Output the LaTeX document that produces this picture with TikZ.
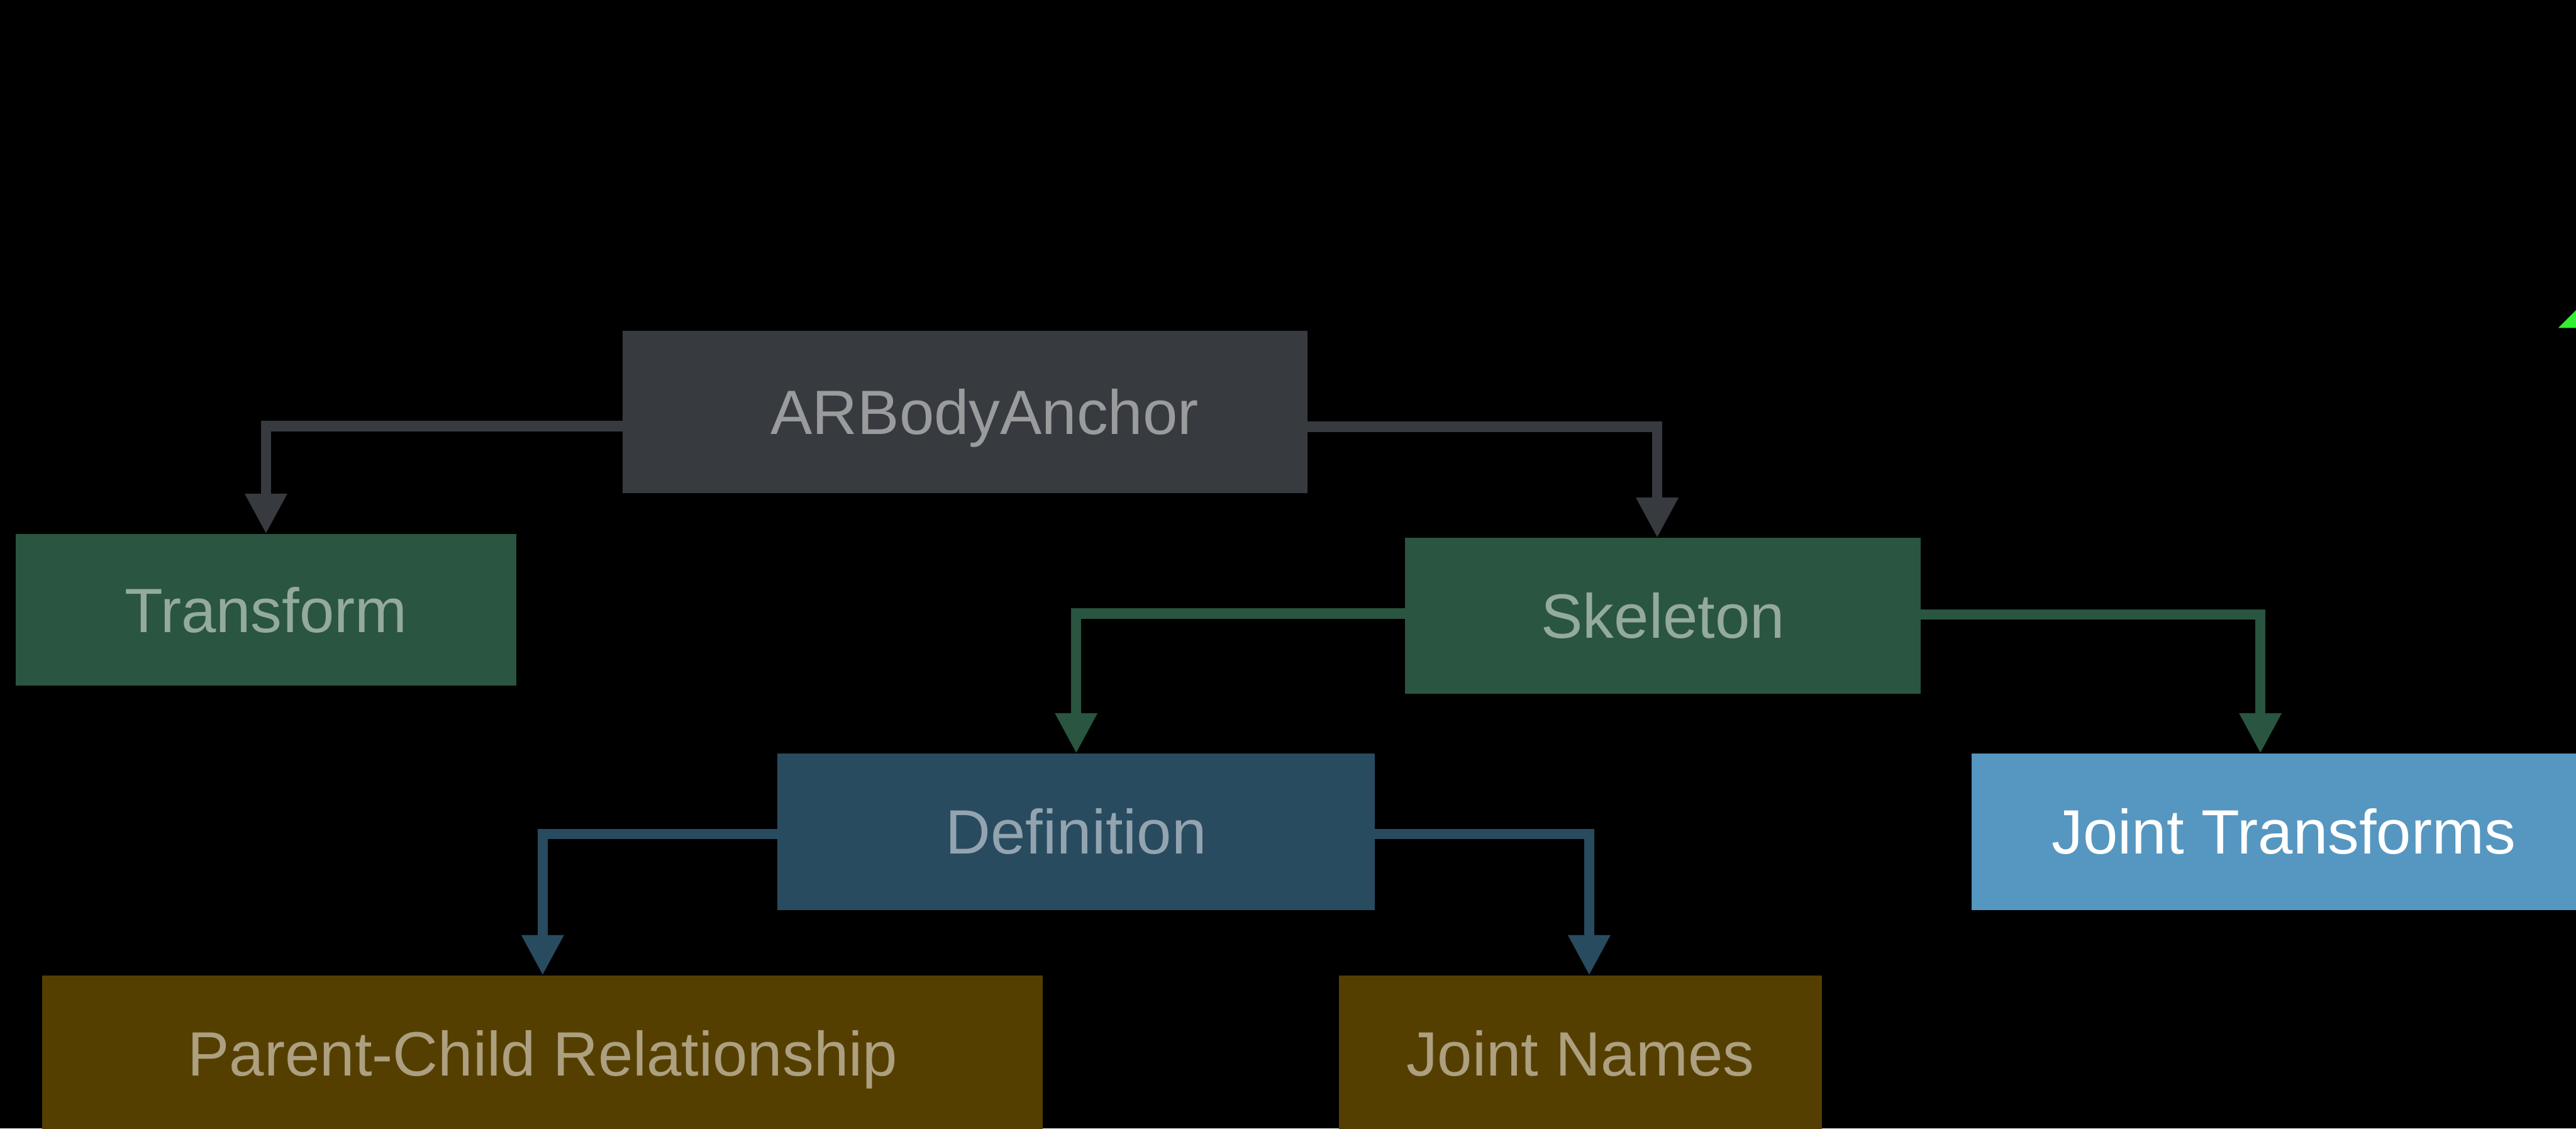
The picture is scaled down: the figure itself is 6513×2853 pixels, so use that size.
\documentclass[tikz,border=0pt]{standalone}
\usepackage{fontspec}
\setmainfont{Liberation Sans}
\usetikzlibrary{arrows.meta}

\definecolor{anchorfill}{HTML}{373B40}
\definecolor{anchortext}{HTML}{999B9D}
\definecolor{greenfill}{HTML}{2A5540}
\definecolor{greentext}{HTML}{93AA9C}
\definecolor{bluefill}{HTML}{284B5F}
\definecolor{bluetext}{HTML}{93A4B0}
\definecolor{skyfill}{HTML}{5597C1}
\definecolor{brownfill}{HTML}{553F00}
\definecolor{browntext}{HTML}{ADA080}
\definecolor{marker}{HTML}{33EE33}

\tikzset{
  box/.style={rectangle, inner sep=0pt, outer sep=0pt,
    font=\fontsize{45}{54}\selectfont, text height=32.2pt, text depth=0pt},
  anchorbox/.style={box, fill=anchorfill, text=anchortext},
  greenbox/.style={box, fill=greenfill, text=greentext},
  bluebox/.style={box, fill=bluefill, text=bluetext},
  skybox/.style={box, fill=skyfill, text=white},
  brownbox/.style={box, fill=brownfill, text=browntext},
  conn/.style={line width=0.26cm, line join=miter, draw=#1,
    -{Triangle[length=1.02cm, width=1.0cm]}},
}

\begin{document}
\begin{tikzpicture}[x=0.01cm, y=-0.01cm]
  \useasboundingbox (0,0) rectangle (6513,2853);
  \clip (0,0) rectangle (6513,2853);
  \fill[black] (0,0) rectangle (6513,2853);

  % boxes
  \node[anchorbox, minimum width=17.31cm, minimum height=4.10cm] (anchor) at (2439.5,1041) {\hspace*{1cm}ARBodyAnchor};
  \node[greenbox, minimum width=12.65cm, minimum height=3.83cm] (transform) at (672.5,1541.5) {Transform};
  \node[greenbox, minimum width=13.03cm, minimum height=3.94cm] (skeleton) at (4204.5,1557) {Skeleton};
  \node[bluebox, minimum width=15.10cm, minimum height=3.95cm] (definition) at (2721,2102.5) {Definition};
  \node[skybox, minimum width=15.78cm, minimum height=3.95cm] (jtrans) at (5774,2102.5) {Joint Transforms};
  \node[brownbox, minimum width=25.28cm, minimum height=3.94cm] (pcr) at (1372,2663) {Parent-Child Relationship};
  \node[brownbox, minimum width=12.21cm, minimum height=3.94cm] (jnames) at (3995.5,2663) {Joint Names};

  % connectors
  \draw[conn=anchorfill] ([yshift=-0.36cm]anchor.west) -| (transform.north);
  \draw[conn=anchorfill] ([yshift=-0.38cm]anchor.east) -| ([xshift=-0.145cm]skeleton.north);
  \draw[conn=greenfill] ([yshift=0.06cm]skeleton.west) -| (definition.north);
  \draw[conn=greenfill] ([yshift=0.04cm]skeleton.east) -| ([xshift=-0.59cm]jtrans.north);
  \draw[conn=bluefill] ([yshift=-0.055cm]definition.west) -| (pcr.north);
  \draw[conn=bluefill] ([yshift=-0.055cm]definition.east) -| ([xshift=0.225cm]jnames.north);

  % small marker in the upper right corner
  \fill[marker] (6468,829) -- (6560,829) -- (6560,737) -- cycle;
\end{tikzpicture}
\end{document}
